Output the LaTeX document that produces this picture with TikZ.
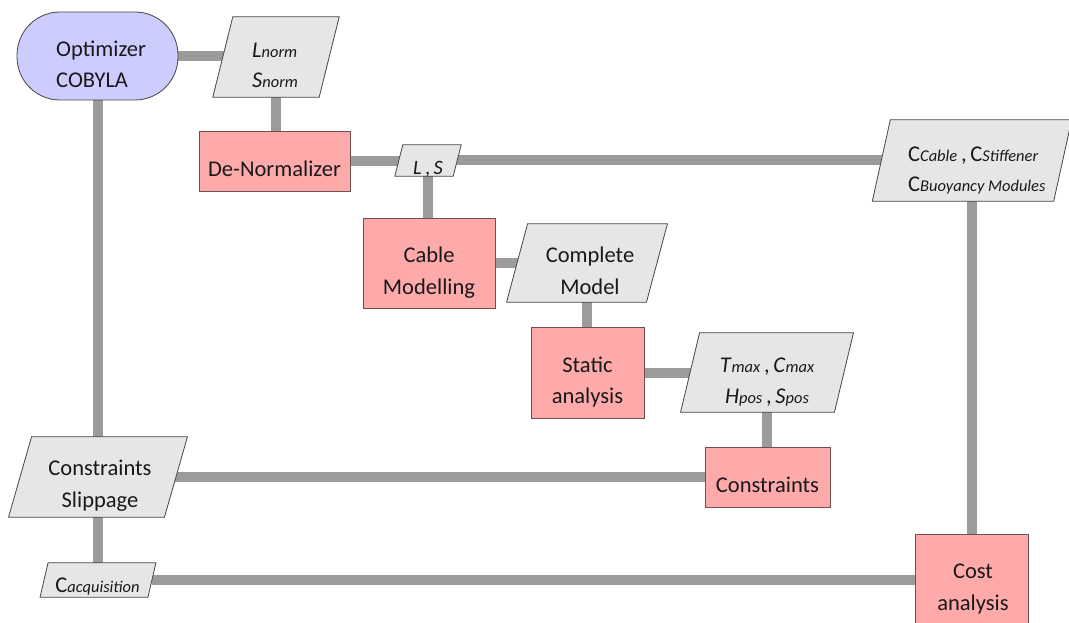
\documentclass[tikz,border=0pt]{standalone}
\usepackage{fontspec}
\setmainfont{Carlito}
\usetikzlibrary{backgrounds}
\definecolor{lineg}{RGB}{155,155,155}
\definecolor{pinkf}{RGB}{255,170,170}
\definecolor{grayf}{RGB}{230,230,230}
\definecolor{lavf}{RGB}{204,204,255}
\definecolor{edgec}{RGB}{70,70,70}
\definecolor{pinkedge}{RGB}{110,80,80}
\newcommand\sbs[1]{{\fontsize{16.5}{16.5}\selectfont\itshape #1}}
\newcommand\parashape[6]{%
  \node[paracore, minimum width=#4bp, minimum height=#5bp] (#1) at (#2,#3) {};
  \draw[parafill] ([xshift=#6bp]#1.north west) -- ([xshift=#6bp]#1.north east)
    -- ([xshift=-#6bp]#1.south east) -- ([xshift=-#6bp]#1.south west) -- cycle;}
\tikzset{
  conn/.style={draw=lineg, line width=10bp},
  pinkbox/.style={rectangle, draw=pinkedge, line width=0.8bp, fill=pinkf, inner sep=0pt},
  optbox/.style={rectangle, rounded corners=43bp, draw=edgec, line width=0.8bp, fill=lavf, inner sep=0pt},
  paracore/.style={rectangle, inner sep=0pt},
  parafill/.style={draw=edgec, line width=0.8bp, fill=grayf},
  txt/.style={inner sep=0pt, anchor=base, font=\fontsize{22.6}{26}\selectfont, text=black!90},
  txtw/.style={txt, anchor=base west},
}
\begin{document}
\begin{tikzpicture}[x=1bp, y=-1bp]
\clip (0,0) rectangle (1069,623);
% rectangular nodes
\node[optbox, minimum width=161bp, minimum height=88bp] (opt) at (97.5,56) {};
\node[pinkbox, minimum width=151bp, minimum height=60bp] (denorm) at (274.5,161) {};
\node[pinkbox, minimum width=132bp, minimum height=90bp] (cable) at (429,263) {};
\node[pinkbox, minimum width=113bp, minimum height=91bp] (static) at (587.5,372.5) {};
\node[pinkbox, minimum width=125bp, minimum height=60bp] (constr) at (767.5,477) {};
\node[pinkbox, minimum width=113bp, minimum height=108bp] (cost) at (971.5,588) {};
% parallelograms
\parashape{lnorm}{276}{57}{106}{80}{10}
\parashape{ls}{428}{160.5}{58}{31}{4}
\parashape{ccable}{972}{160.5}{181}{81}{9}
\parashape{complete}{587}{263}{139.5}{78}{10.5}
\parashape{tmax}{767}{372.5}{153.5}{79}{9.5}
\parashape{slip}{98}{477}{155.5}{80}{11.5}
\parashape{cacq}{98}{580}{107.5}{34}{4}
% connectors
\begin{pgfonlayer}{background}
\draw[conn] (opt) -- (opt -| lnorm);
\draw[conn] (lnorm) -- (lnorm |- denorm);
\draw[conn] (denorm) -- (denorm -| ls);
\draw[conn] (ls) -- (ls -| ccable);
\draw[conn] (ls) -- (ls |- cable);
\draw[conn] (cable) -- (cable -| complete);
\draw[conn] (complete) -- (complete |- static);
\draw[conn] (static) -- (static -| tmax);
\draw[conn] (tmax) -- (tmax |- constr);
\draw[conn] (constr) -- (constr -| slip);
\draw[conn] (opt) -- (opt |- slip);
\draw[conn] (slip) -- (slip |- cacq);
\draw[conn] (cacq) -- (cacq -| cost);
\draw[conn] (ccable) -- (ccable |- cost);
\end{pgfonlayer}
% texts
\node[txtw] (optA) at (56,57) {Optimizer};
\node[txtw] (optB) at (56,88) {COBYLA};
\node[txtw] (lnA) at (252,58) {\textit{L}\sbs{norm}};
\node[txtw] (lnB) at (252,88) {\textit{S}\sbs{norm}};
\node[txt] (dnA) at (274.5,177) {De-Normalizer};
\node[txt, font=\fontsize{20.5}{24}\selectfont] (lsA) at (428,175) {\textit{L}\,,\,\textit{S}};
\node[txtw] (ccA) at (908,162) {C\sbs{Cable}\,,\,C\sbs{Stiffener}};
\node[txtw] (ccB) at (908,192) {C\sbs{Buoyancy Modules}};
\node[txt] (cbA) at (429,263) {Cable};
\node[txt] (cbB) at (429,295) {Modelling};
\node[txt] (cmA) at (590,263) {Complete};
\node[txt] (cmB) at (590,295) {Model};
\node[txt] (stA) at (587.5,372) {Static};
\node[txt] (stB) at (587.5,403) {analysis};
\node[txt] (tmA) at (767,372) {\textit{T}\sbs{max}\,,\,\textit{C}\sbs{max}};
\node[txt] (tmB) at (767,403) {\textit{H}\sbs{pos}\,,\,\textit{S}\sbs{pos}};
\node[txt] (coA) at (767.5,492) {Constraints};
\node[txt] (slA) at (100,475) {Constraints};
\node[txt] (slB) at (100,507) {Slippage};
\node[txt] (caA) at (97.5,592) {C\sbs{acquisition}};
\node[txt] (csA) at (973,578) {Cost};
\node[txt] (csB) at (973,610) {analysis};
\end{tikzpicture}
\end{document}
